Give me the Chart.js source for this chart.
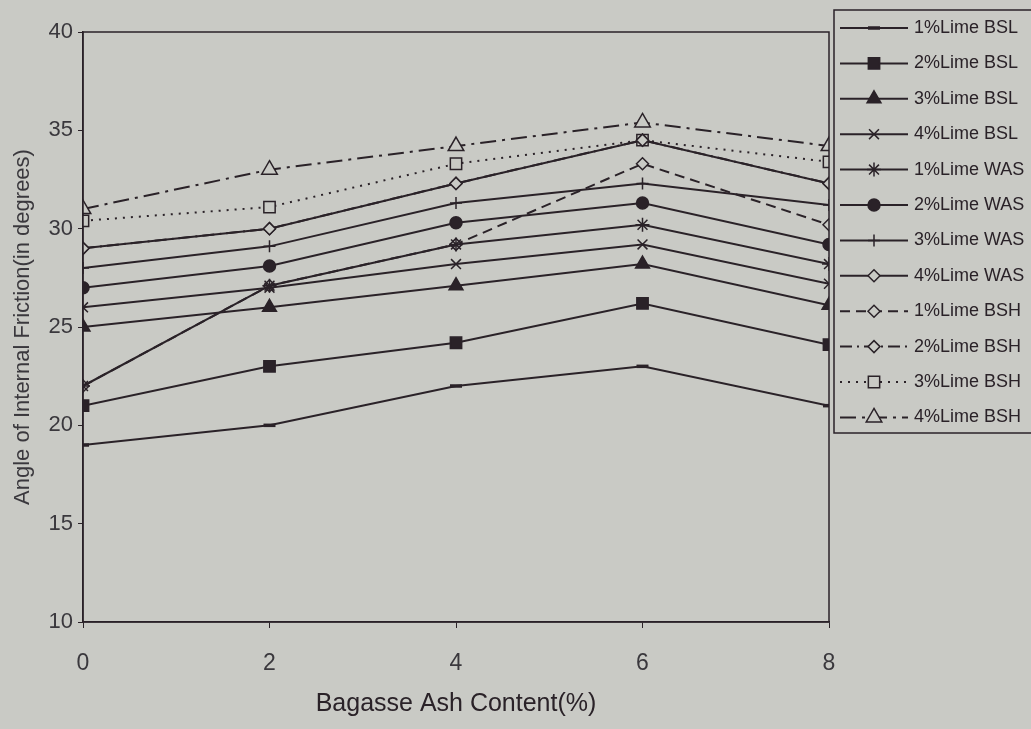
<!DOCTYPE html>
<html>
<head>
<meta charset="utf-8">
<script src="https://cdn.jsdelivr.net/npm/chart.js@4/dist/chart.umd.min.js"></script>
<style>
  body { margin: 0; background: #c9cac5; }
</style>
</head>
<body>
<canvas id="frictionChart" width="1031" height="729"></canvas>
<script>
// x values (Bagasse ash content, %)
const ashContent = [0, 2, 4, 6, 8];

// angle of internal friction (degrees) for each mix
const lime1BSL = [19, 20, 22, 23, 21];
const lime2BSL = [21, 23, 24.2, 26.2, 24.1];
const lime3BSL = [25, 26, 27.1, 28.2, 26.1];
const lime4BSL = [26, 27, 28.2, 29.2, 27.2];
const lime1WAS = [22, 27.1, 29.2, 30.2, 28.2];
const lime2WAS = [27, 28.1, 30.3, 31.3, 29.2];
const lime3WAS = [28, 29.1, 31.3, 32.3, 31.2];
const lime4WAS = [29, 30, 32.3, 34.5, 32.3];
const lime1BSH = [22, 27.1, 29.2, 33.3, 30.2];
const lime2BSH = [29, 30, 32.3, 34.5, 32.3];
const lime3BSH = [30.4, 31.1, 33.3, 34.5, 33.4];
const lime4BSH = [31, 33, 34.2, 35.4, 34.2];

const yTicks = [10, 15, 20, 25, 30, 35, 40];

const ink = '#2a2228';
const paper = '#c9cac5';

function series(label, values, marker, radius, filled, dash, pw) {
    return {
        label: label,
        data: values.map((v, i) => ({ x: ashContent[i], y: v })),
        borderColor: ink,
        borderWidth: 2,
        borderDash: dash || [],
        tension: 0,
        pointStyle: marker,
        pointRadius: radius,
        pointHoverRadius: radius,
        pointBorderColor: ink,
        pointBackgroundColor: filled ? ink : paper,
        pointBorderWidth: pw || 1.5
    };
}

// paper background
const paperBg = {
    id: 'paperBg',
    beforeDraw(chart) {
        const ctx = chart.ctx;
        ctx.save();
        ctx.fillStyle = paper;
        ctx.fillRect(0, 0, chart.width, chart.height);
        ctx.restore();
    }
};

// box round the plot + boxed legend on the right
const frameLegend = {
    id: 'frameLegend',
    afterDraw(chart) {
        const ctx = chart.ctx;
        const a = chart.chartArea;
        ctx.save();
        ctx.strokeStyle = ink;
        ctx.lineWidth = 1.5;
        ctx.strokeRect(a.left, a.top, a.right - a.left, a.bottom - a.top);

        ctx.strokeRect(834, 10, 200, 423);
        chart.data.datasets.forEach((ds, i) => {
            const y = 28 + i * 35.4;
            ctx.strokeStyle = ink;
            ctx.lineWidth = ds.borderWidth;
            ctx.setLineDash(ds.borderDash);
            ctx.beginPath();
            ctx.moveTo(840, y);
            ctx.lineTo(908, y);
            ctx.stroke();
            ctx.setLineDash([]);
            ctx.fillStyle = ds.pointBackgroundColor;
            ctx.lineWidth = ds.pointBorderWidth;
            Chart.helpers.drawPoint(ctx, {
                pointStyle: ds.pointStyle,
                rotation: 0,
                radius: ds.pointRadius,
                borderWidth: ds.pointBorderWidth
            }, 874, y);
            ctx.fillStyle = ink;
            ctx.font = '18px "Liberation Sans", Arial, sans-serif';
            ctx.textBaseline = 'middle';
            ctx.textAlign = 'left';
            ctx.fillText(ds.label, 914, y);
        });
        ctx.restore();
    }
};

const ctx = document.getElementById('frictionChart').getContext('2d');
const frictionChart = new Chart(ctx, {
    type: 'line',
    data: {
        datasets: [
            series('1%Lime BSL', lime1BSL, 'line', 6, true, [], 3.5),
            series('2%Lime BSL', lime2BSL, 'rect', 8, true),
            series('3%Lime BSL', lime3BSL, 'triangle', 8, true),
            series('4%Lime BSL', lime4BSL, 'crossRot', 7, false),
            series('1%Lime WAS', lime1WAS, 'star', 7, false),
            series('2%Lime WAS', lime2WAS, 'circle', 6, true),
            series('3%Lime WAS', lime3WAS, 'cross', 6, false),
            series('4%Lime WAS', lime4WAS, 'rectRot', 6, false),
            series('1%Lime BSH', lime1BSH, 'rectRot', 6, false, [10, 6]),
            series('2%Lime BSH', lime2BSH, 'rectRot', 6, false, [12, 5, 2, 5]),
            series('3%Lime BSH', lime3BSH, 'rect', 8, false, [2, 6]),
            series('4%Lime BSH', lime4BSH, 'triangle', 9, false, [16, 6, 3, 6])
        ]
    },
    options: {
        responsive: false,
        animation: false,
        layout: { padding: { top: 32, right: 202, left: 0, bottom: 0 } },
        plugins: {
            legend: { display: false },
            tooltip: { enabled: false }
        },
        scales: {
            x: {
                type: 'linear',
                min: 0,
                max: 8,
                afterFit(scale) { scale.height = 107; },
                grid: { display: true, drawOnChartArea: false, drawTicks: true, tickLength: 6, color: ink },
                border: { display: true, color: ink, width: 1.5 },
                ticks: {
                    stepSize: 2,
                    padding: 22,
                    color: '#3a383d',
                    font: { family: '"Liberation Sans", Arial, sans-serif', size: 23 }
                },
                title: {
                    display: true,
                    text: 'Bagasse Ash Content(%)',
                    color: ink,
                    padding: { top: 2, bottom: 10 },
                    font: { family: '"Liberation Sans", Arial, sans-serif', size: 25 }
                }
            },
            y: {
                min: 10,
                max: 40,
                afterFit(scale) { scale.width = 83; },
                afterBuildTicks(scale) { scale.ticks = yTicks.map(v => ({ value: v })); },
                grid: { display: true, drawOnChartArea: false, drawTicks: true, tickLength: 5, color: ink },
                border: { display: true, color: ink, width: 1.5 },
                ticks: {
                    padding: 5,
                    color: '#3a383d',
                    font: { family: '"Liberation Sans", Arial, sans-serif', size: 22 }
                },
                title: {
                    display: true,
                    text: 'Angle of Internal Friction(in degrees)',
                    color: '#3a383d',
                    padding: { top: 10, bottom: 0 },
                    font: { family: '"Liberation Sans", Arial, sans-serif', size: 22 }
                }
            }
        }
    },
    plugins: [paperBg, frameLegend]
});
</script>
</body>
</html>
